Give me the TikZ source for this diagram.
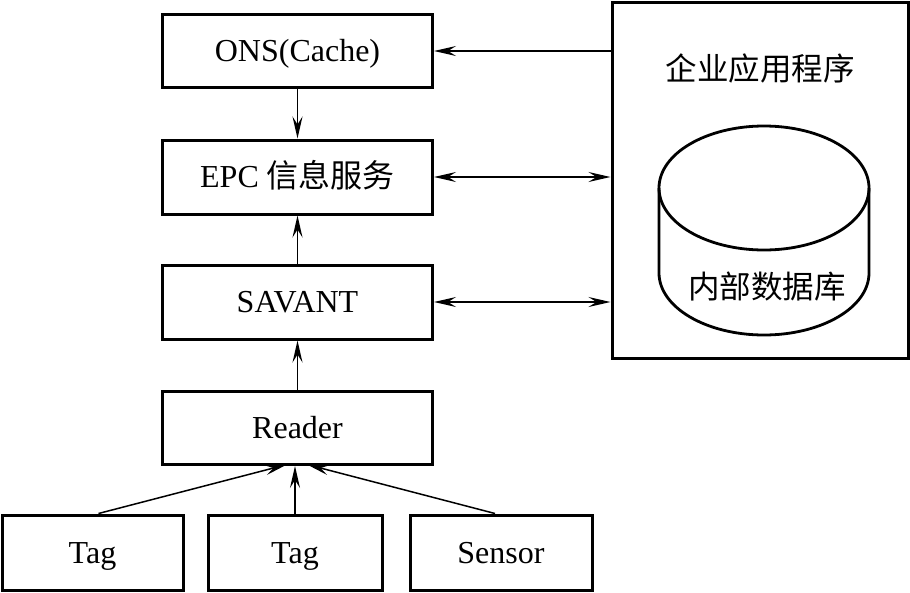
\documentclass[tikz,border=0pt]{standalone}
\usepackage{fontspec}
\setmainfont{Liberation Serif}
\newfontfamily\cjk{Noto Sans CJK SC}
\usetikzlibrary{arrows.meta}
\tikzset{
  box/.style={draw, line width=3pt, minimum width=270pt, minimum height=73pt, inner sep=0pt, text height=26pt, text depth=5pt, font=\fontsize{32}{36}\selectfont},
  lbl/.style={inner sep=0pt, font=\fontsize{31.5}{36}\selectfont},
  arr/.style={line width=1.5pt, -{Stealth[length=22pt,width=10pt,inset=8pt]}},
  darr/.style={line width=1.5pt, {Stealth[length=22pt,width=10pt,inset=8pt]}-{Stealth[length=22pt,width=10pt,inset=8pt]}}
}
\begin{document}
\begin{tikzpicture}[x=1pt,y=-1pt]
\useasboundingbox (0,0) rectangle (910,592);
\node[box] (ons) at (297.5,51) {ONS(Cache)};
\node[box, minimum height=74pt] (epc) at (297.5,177) {EPC {\cjk 信息服务}};
\node[box, minimum height=74pt] (sav) at (297.5,302) {SAVANT};
\node[box] (rd) at (297.5,428) {Reader};
\node[box, minimum width=181pt, minimum height=75pt] (t1) at (92.5,552.5) {Tag};
\node[box, minimum width=174pt, minimum height=75pt] (t2) at (295,552.5) {Tag};
\node[box, minimum width=182pt, minimum height=75pt] (sn) at (501,552.5) {Sensor};
\node[draw, line width=3pt, minimum width=296pt, minimum height=356pt, inner sep=0pt] (app) at (760,180) {};
\node[lbl] (apptitle) at (760,68) {\cjk 企业应用程序};
% cylinder
\draw[line width=2.8pt] (764,188) ellipse[x radius=105, y radius=62];
\draw[line width=2.8pt] (659,188) -- (659,273)
  arc[start angle=180, end angle=0, x radius=105, y radius=62] -- (869,188);
\node[lbl] (db) at (767,287) {\cjk 内部数据库};
% connectors
\draw[arr] (app.west |- ons.east) -- (ons.east);
\draw[darr] (epc.east) -- (epc.east -| app.west);
\draw[darr] (sav.east) -- (sav.east -| app.west);
\draw[arr] (ons.south) -- (epc.north);
\draw[arr] (sav.north) -- (epc.south);
\draw[arr] (rd.north) -- (sav.south);
\coordinate (r1) at (287,464.5);
\coordinate (r3) at (307,464.5);
\draw[arr] ([xshift=6pt]t1.north) -- (r1);
\draw[arr] (t2.north) -- (t2.north |- rd.south);
\draw[arr] ([xshift=-6pt]sn.north) -- (r3);
\end{tikzpicture}
\end{document}
